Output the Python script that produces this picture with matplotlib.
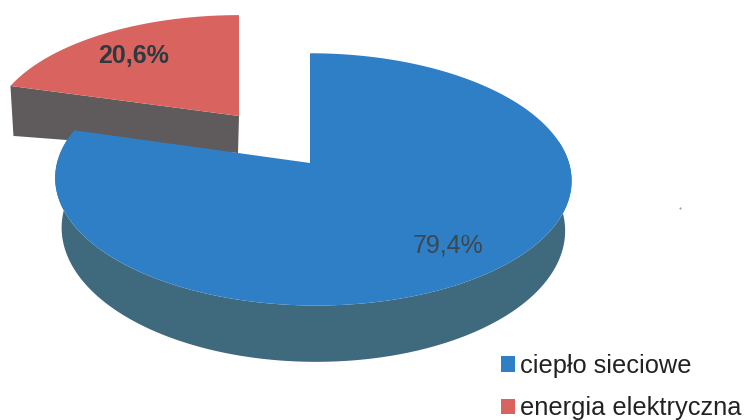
import matplotlib
matplotlib.use('Agg')
import matplotlib.pyplot as plt
from matplotlib.patches import Patch
import numpy as np

labels = ['ciepło sieciowe', 'energia elektryczna']
shares = [79.4, 20.6]
share_text = ['79,4%', '20,6%']

colors = ['#2f7fc6', '#d9645f']
wall_colors = ['#3f6a7e', '#5f5a5b']

plt.rcParams['font.family'] = ['Liberation Sans', 'DejaVu Sans']

# the chart is a tilted disc, so rim points go through a simple perspective divide
K = 0.13


def rim(theta, apex, a, b, xscale=1.0, drop=0.0, lean=0.0):
    u, v = np.sin(theta), np.cos(theta)
    w = 1 + K * v
    x = apex[0] + xscale * a * u / w + lean * (1 - v)
    y = apex[1] - b * v / w + drop / w
    return x, y


fig = plt.figure(figsize=(7.44, 4.2), dpi=100)
ax = fig.add_axes([0, 0, 1, 1])
ax.set_xlim(0, 744)
ax.set_ylim(420, 0)
ax.axis('off')

split = 2 * np.pi * shares[0] / sum(shares)

# pulled out slice first, the big one sits on top of it
red_apex = (239, 116)
red_a, red_b = 246, 114
t = np.linspace(split, 2 * np.pi, 80)
xr, yr = rim(t, red_apex, red_a, red_b)
# front wall gets deeper towards the viewer's left
cx, cy = rim(split, red_apex, red_a, red_b)
ax.fill([red_apex[0], cx, cx + 3, red_apex[0] - 1],
        [red_apex[1], cy, cy + 50, red_apex[1] + 37],
        color=wall_colors[1], lw=0)
ax.fill(np.r_[red_apex[0], xr], np.r_[red_apex[1], yr], color=colors[1], lw=0)

# big slice
apex = (310, 163)
a, b = 256, 124
t = np.linspace(np.radians(80), split, 200)
xt, yt = rim(t, apex, a, b, lean=3)
xb, yb = rim(t, apex, a, b, xscale=0.975, drop=49, lean=3)
ax.fill(np.r_[xt, xb[::-1]], np.r_[yt, yb[::-1]], color=wall_colors[0], lw=0)
t = np.linspace(0, split, 300)
xt, yt = rim(t, apex, a, b, lean=3)
ax.fill(np.r_[apex[0], xt], np.r_[apex[1], yt], color=colors[0], lw=0)

ax.text(448, 245, share_text[0], fontsize=18, color='#3c474f', ha='center', va='center')
ax.text(134, 56, share_text[1], fontsize=18, color='#2f3a40', fontweight='bold', ha='center', va='center')

# speck from the scan
ax.plot(680, 208, 'o', ms=1.5, color='#9a9a9a', mew=0)

handles = [Patch(color=c, lw=0) for c in colors]
ax.legend(handles, labels, loc='upper left', bbox_to_anchor=(501, 354), bbox_transform=ax.transData,
          frameon=False, fontsize=18.3, handlelength=0.55, handleheight=0.55, handletextpad=0.2,
          labelspacing=0.72, borderpad=0, borderaxespad=0, labelcolor='#222222')

fig.savefig('out.png', dpi=100)
